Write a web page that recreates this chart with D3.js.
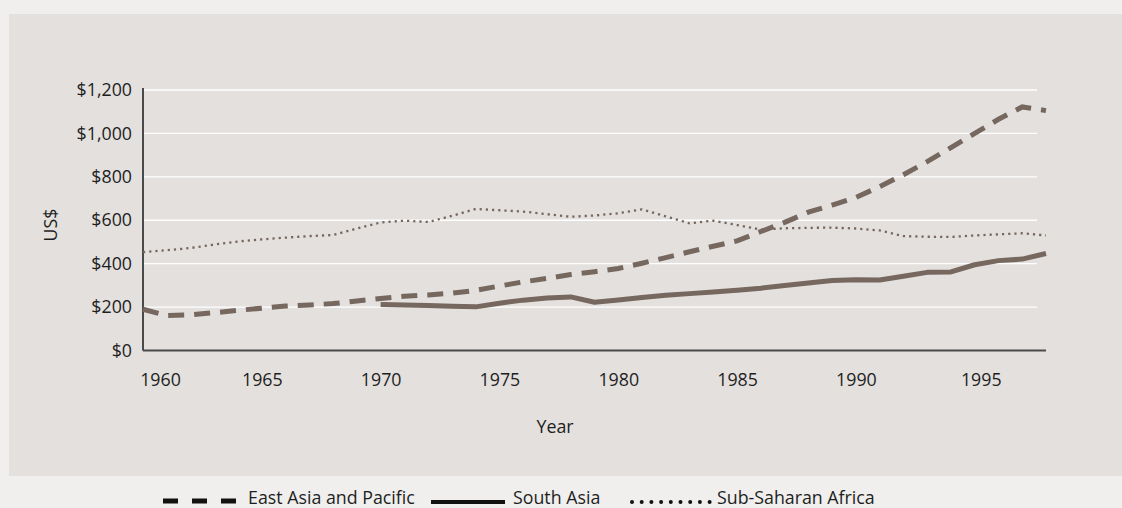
<!DOCTYPE html>
<html>
<head>
<meta charset="utf-8">
<script src="https://cdn.jsdelivr.net/npm/d3@7"></script>
<style>
  html, body { margin: 0; padding: 0; background: #f0efed; }
  text { font-family: "Open Sans", sans-serif; fill: #1e1e1e; }
</style>
</head>
<body>
<div class="chart"></div>
<script>
// GDP per capita chart, three regions

var years = d3.range(1960, 1999);

var eastAsia = [190, 161, 164, 174, 185, 195, 205, 210, 216, 228,
  240, 250, 256, 264, 277, 297, 316, 332, 350, 363,
  378, 402, 428, 455, 480, 505, 548, 590, 637, 670,
  705, 755, 810, 870, 935, 1000, 1065, 1122, 1105];

var southAsiaYears = d3.range(1970, 1999);
var southAsia = [212, 210, 207, 204, 201, 218, 232, 242, 247, 222,
  233, 244, 254, 262, 270, 278, 287, 299, 311, 322,
  326, 325, 342, 360, 362, 395, 414, 421, 447];

var ssAfrica = [453, 462, 472, 488, 502, 512, 520, 527, 532, 562,
  590, 598, 592, 620, 652, 646, 640, 628, 616, 622,
  632, 650, 618, 586, 598, 578, 557, 563, 565, 566,
  562, 553, 527, 524, 523, 530, 535, 540, 530];

var yTicks = [0, 200, 400, 600, 800, 1000, 1200];
var xTicks = [1960, 1965, 1970, 1975, 1980, 1985, 1990, 1995];

var legendNames = ["East Asia and Pacific", "South Asia", "Sub-Saharan Africa"];

var svgWidth = 1122;
var svgHeight = 508;

var margin = {
  top: 90,
  right: 76,
  bottom: 157.5,
  left: 143
};

var width = svgWidth - margin.left - margin.right;
var height = svgHeight - margin.top - margin.bottom;

var lineColor = "#76675f";
var fontSize = "17.8px";

var svg = d3.select(".chart")
  .append("svg")
  .attr("width", svgWidth)
  .attr("height", svgHeight)
  .style("display", "block");

// panel
svg.append("rect")
  .attr("x", 9)
  .attr("y", 14)
  .attr("width", svgWidth - 9)
  .attr("height", 462)
  .attr("fill", "#e3e0dd");

var chartGroup = svg.append("g")
  .attr("transform", `translate(${margin.left}, ${margin.top})`);

var xScale = d3.scaleLinear()
  .domain([1960, 1998])
  .range([0, width]);

var yScale = d3.scaleLinear()
  .domain([0, 1200])
  .range([height, 0]);

// gridlines
chartGroup.append("g")
  .selectAll("line")
  .data(yTicks.filter(d => d > 0))
  .enter()
  .append("line")
  .attr("x1", 0)
  .attr("x2", width - 9)
  .attr("y1", d => yScale(d))
  .attr("y2", d => yScale(d))
  .attr("stroke", "#ffffff")
  .attr("stroke-width", 1.4);

var yAxis = d3.axisLeft(yScale)
  .tickValues(yTicks)
  .tickSize(0)
  .tickPadding(11)
  .tickFormat(d => "$" + d3.format(",")(d));

var xAxis = d3.axisBottom(xScale)
  .tickValues(xTicks)
  .tickSize(0)
  .tickPadding(23)
  .tickFormat(d => d);

var yG = chartGroup.append("g").call(yAxis);
yG.select(".domain").remove();
yG.selectAll("text")
  .style("font-size", fontSize)
  .style("font-family", "'Open Sans', sans-serif")
  .attr("fill", "#1e1e1e");

var xG = chartGroup.append("g")
  .attr("transform", `translate(0, ${height})`)
  .call(xAxis);
xG.select(".domain").remove();
xG.selectAll("text")
  .style("font-size", fontSize)
  .style("font-family", "'Open Sans', sans-serif")
  .attr("fill", "#1e1e1e")
  .attr("dx", d => d === 1960 ? 17 : (d === 1995 ? 6 : 0));

// axis lines
chartGroup.append("line")
  .attr("x1", 0).attr("x2", 0)
  .attr("y1", -2).attr("y2", height)
  .attr("stroke", "#4a4a4a")
  .attr("stroke-width", 2);

chartGroup.append("line")
  .attr("x1", 0).attr("x2", width)
  .attr("y1", height).attr("y2", height)
  .attr("stroke", "#4a4a4a")
  .attr("stroke-width", 2);

// lines
var line = d3.line()
  .x(d => xScale(d[0]))
  .y(d => yScale(d[1]));

chartGroup.append("path")
  .datum(d3.zip(years, ssAfrica))
  .attr("d", line)
  .attr("fill", "none")
  .attr("stroke", lineColor)
  .attr("stroke-width", 2.3)
  .attr("stroke-dasharray", "2.2,4");

chartGroup.append("path")
  .datum(d3.zip(southAsiaYears, southAsia))
  .attr("d", line)
  .attr("fill", "none")
  .attr("stroke", lineColor)
  .attr("stroke-width", 5)
  .attr("stroke-linejoin", "round");

chartGroup.append("path")
  .datum(d3.zip(years, eastAsia))
  .attr("d", line)
  .attr("fill", "none")
  .attr("stroke", lineColor)
  .attr("stroke-width", 5)
  .attr("stroke-dasharray", "16,10");

// axis labels
svg.append("text")
  .attr("transform", "translate(57, 225) rotate(-90)")
  .attr("text-anchor", "middle")
  .style("font-size", fontSize)
  .text("US$");

svg.append("text")
  .attr("x", 555)
  .attr("y", 433)
  .attr("text-anchor", "middle")
  .style("font-size", fontSize)
  .text("Year");

// legend
var legend = svg.append("g");

legend.append("line")
  .attr("x1", 163).attr("x2", 237)
  .attr("y1", 501).attr("y2", 501)
  .attr("stroke", "#111")
  .attr("stroke-width", 5)
  .attr("stroke-dasharray", "15,14");

legend.append("text")
  .attr("x", 248).attr("y", 504)
  .style("font-size", fontSize)
  .text(legendNames[0]);

legend.append("line")
  .attr("x1", 431).attr("x2", 505)
  .attr("y1", 502).attr("y2", 502)
  .attr("stroke", "#111")
  .attr("stroke-width", 4);

legend.append("text")
  .attr("x", 513).attr("y", 504)
  .style("font-size", fontSize)
  .text(legendNames[1]);

legend.selectAll("circle")
  .data(d3.range(9))
  .enter()
  .append("circle")
  .attr("cx", d => 632 + d * 9.7)
  .attr("cy", 502)
  .attr("r", 2)
  .attr("fill", "#111");

legend.append("text")
  .attr("x", 717).attr("y", 504)
  .style("font-size", fontSize)
  .text(legendNames[2]);
</script>
</body>
</html>
